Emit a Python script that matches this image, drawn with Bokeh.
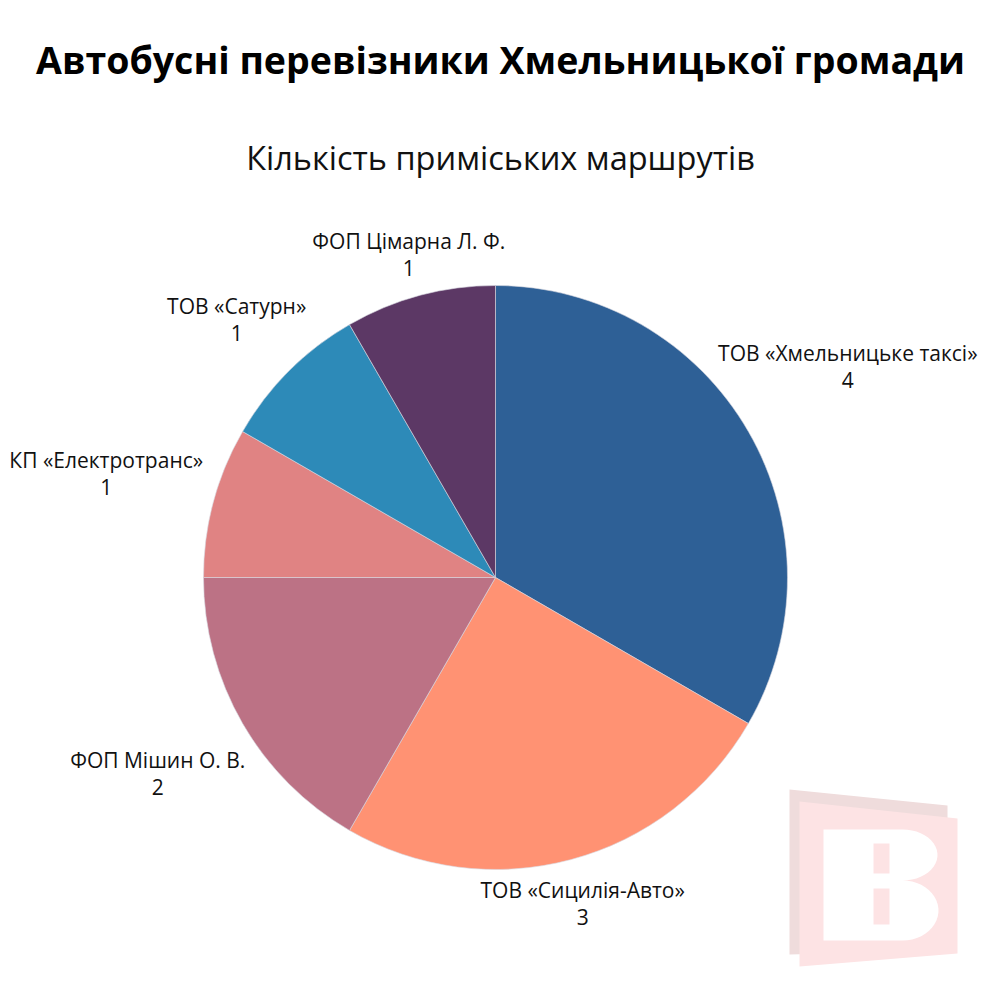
import numpy as np
from bokeh.plotting import figure
from bokeh.models import Range1d, ColumnDataSource
from bokeh.core.properties import value
from bokeh.embed import file_html
from bokeh.resources import INLINE

title = "Автобусні перевізники Хмельницької громади"
subtitle = "Кількість приміських маршрутів"
carriers = ["ТОВ «Хмельницьке таксі»", "ТОВ «Сицилія-Авто»", "ФОП Мішин О. В.",
            "КП «Електротранс»", "ТОВ «Сатурн»", "ФОП Цімарна Л. Ф."]
routes = [4, 3, 2, 1, 1, 1]
colors = ["#2E6096", "#FF9273", "#BC7285", "#E08383", "#2D8AB8", "#5C3865"]

FONT = "Open Sans"
W = H = 984
p = figure(width=W, height=H, output_backend="svg", toolbar_location=None,
           x_range=Range1d(0, W), y_range=Range1d(0, H), min_border=0)
p.axis.visible = False
p.grid.visible = False
p.outline_line_color = None
p.background_fill_color = "white"
p.border_fill_color = "white"

def Y(v):
    return H - v

# pie geometry (layout)
cx, cy, R = 495, Y(577), 292
vals = np.array(routes, dtype=float)
frac = vals / vals.sum()
ends = np.pi / 2 - 2 * np.pi * np.cumsum(frac)
starts = ends + 2 * np.pi * frac
src = ColumnDataSource(dict(start=ends, end=starts, color=colors))
p.wedge(x=cx, y=cy, radius=R, start_angle="start", end_angle="end", color="color",
        line_color="#d8d8e0", line_width=0.6, source=src)

# labels placed along mid-angle
mid = (starts + ends) / 2
label_dist = [423, 337, 390, 403, 366, 335]
label_dx = [-14, 0, 0, 0, 0, 0]   # keep the right-hand label inside the page
lx = cx + np.array(label_dist) * np.cos(mid) + np.array(label_dx)
ly = cy + np.array(label_dist) * np.sin(mid)
p.text(x=lx, y=ly + 13, text=carriers, text_font=value(FONT), text_font_size="21px",
       text_align="center", text_baseline="middle", text_color="#111111")
p.text(x=lx, y=ly - 14, text=[str(v) for v in routes], text_font=value(FONT), text_font_size="21px",
       text_align="center", text_baseline="middle", text_color="#111111")

# titles
p.text(x=[500], y=[Y(59)], text=[title], text_font=value(FONT), text_font_size="37.5px",
       text_font_style="bold", text_align="center", text_baseline="middle", text_color="#000000")
p.text(x=[500], y=[Y(157)], text=[subtitle], text_font=value(FONT), text_font_size="32.5px",
       text_align="center", text_baseline="middle", text_color="#111111")

# watermark logo (decoration)
p.patch([789, 947, 947, 789], [Y(789), Y(805), Y(950), Y(954)], color="#EFDCDC", line_color=None)
p.patch([799, 957, 957, 799], [Y(801), Y(818), Y(953), Y(966)], color="#FDE3E4", line_color=None)
t1 = np.linspace(np.pi / 2, -np.pi / 2, 24)
bx = [823, 900] + list(902 + 35 * np.cos(t1)) + list(902 + 36 * np.cos(t1)) + [900, 823]
by = [Y(829), Y(829)] + list(Y(854.5) + 25.5 * np.sin(t1)) + list(Y(910) + 30 * np.sin(t1)) + [Y(940), Y(940)]
p.patch(bx, by, color="#FFFFFF", line_color=None)
p.quad(left=[873, 873], right=[889, 889], top=[Y(843), Y(888)], bottom=[Y(873), Y(924)],
       color="#FDE3E4", line_color=None)

open("out.html", "w").write(file_html(p, INLINE))
